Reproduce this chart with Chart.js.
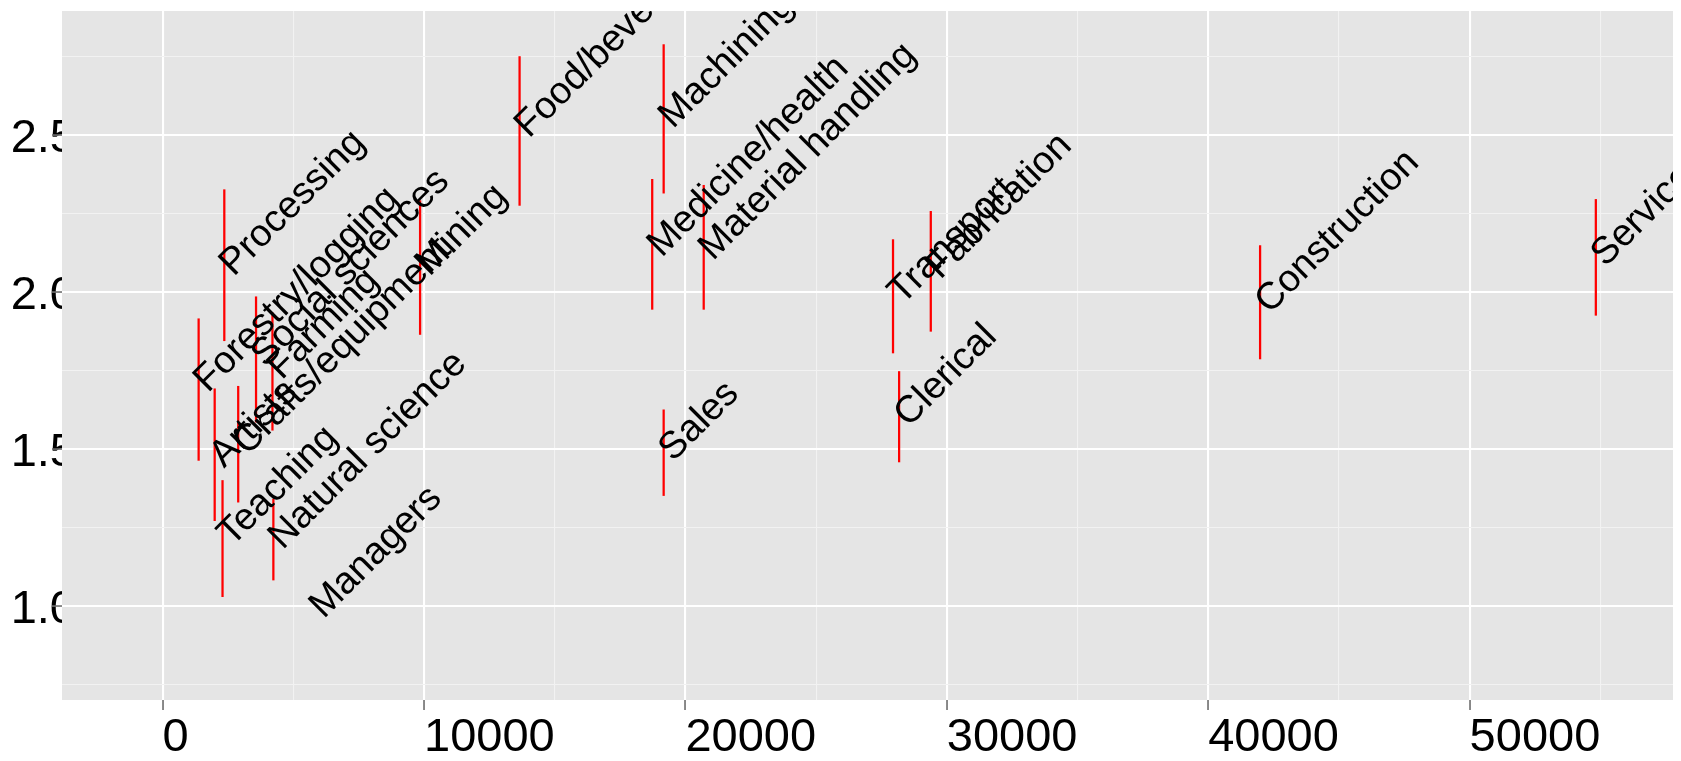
<!DOCTYPE html>
<html>
<head>
<meta charset="utf-8">
<script src="https://cdn.jsdelivr.net/npm/chart.js@4"></script>
<style>
  html, body { margin: 0; padding: 0; background: #fff; }
  canvas { display: block; }
</style>
</head>
<body>
<canvas id="grafico" width="1681" height="761"></canvas>
<script>
// occupations
const occupations = ["Forestry/logging", "Artists", "Teaching", "Processing", "Crafts/equipment",
  "Social sciences", "Farming", "Natural science", "Managers", "Mining", "Food/beverage",
  "Medicine/health", "Machining", "Sales", "Material handling", "Transport", "Clerical",
  "Fabrication", "Construction", "Services"];
const count = [1378, 1992, 2292, 2360, 2892, 3574, 4202, 4237, 5800, 9850, 13656,
  18730, 19168, 19168, 20700, 27942, 28175, 29387, 41985, 54829];
const mean = [1.70, 1.46, 1.21, 2.07, 1.50, 1.78, 1.74, 1.20, 0.98, 2.07, 2.51,
  2.13, 2.54, 1.48, 2.12, 1.98, 1.59, 2.06, 1.95, 2.10];
const lower = [1.463, 1.271, 1.029, 1.844, 1.330, 1.585, 1.559, 1.082, null, 1.864, 2.275,
  1.944, 2.314, 1.351, 1.944, 1.805, 1.458, 1.874, 1.786, 1.925];
const upper = [1.914, 1.691, 1.399, 2.325, 1.699, 1.984, 1.933, 1.340, null, 2.290, 2.749,
  2.358, 2.787, 1.624, 2.339, 2.166, 1.746, 2.256, 2.147, 2.294];

const xBreaks = [0, 10000, 20000, 30000, 40000, 50000];
const xMinorBreaks = [5000, 15000, 25000, 35000, 45000, 55000];
const yBreaks = [1.0, 1.5, 2.0, 2.5];
const yMinorBreaks = [0.75, 1.25, 1.75, 2.25, 2.75];

const panel = {
  id: "panel",
  // grey panel goes over the y labels (they get cut like in the picture), then the grid again
  beforeDatasetsDraw(chart) {
    const ctx = chart.ctx;
    const a = chart.chartArea;
    ctx.save();
    ctx.fillStyle = "#e5e5e5";
    ctx.fillRect(a.left, a.top, a.right - a.left, a.bottom - a.top);
    ctx.restore();
    chart.scales.x.drawGrid(a);
    chart.scales.y.drawGrid(a);
  },
  afterDatasetsDraw(chart) {
    const ctx = chart.ctx;
    const a = chart.chartArea;
    ctx.save();
    ctx.beginPath();
    ctx.rect(a.left, a.top, a.right - a.left, a.bottom - a.top);
    ctx.clip();
    ctx.font = '38px "Liberation Sans"';
    ctx.fillStyle = "#000";
    ctx.textAlign = "left";
    ctx.textBaseline = "middle";
    occupations.forEach((name, i) => {
      const px = chart.scales.x.getPixelForValue(count[i]);
      const py = chart.scales.y.getPixelForValue(mean[i]);
      ctx.save();
      ctx.translate(px + 2, py);
      ctx.rotate(-Math.PI / 4);
      ctx.fillText(name, 0, 0);
      ctx.restore();
    });
    ctx.restore();
  }
};

var ctx = document.getElementById("grafico");
var myChart = new Chart(ctx, {
  type: "bar",
  data: {
    datasets: [
      {
        label: "interval",
        data: occupations.map((n, i) => ({ x: count[i], y: lower[i] === null ? null : [lower[i], upper[i]] })),
        backgroundColor: "#ff0000",
        borderWidth: 0,
        barThickness: 1.6,
        grouped: false
      }
    ]
  },
  options: {
    responsive: false,
    animation: false,
    events: [],
    devicePixelRatio: 1,
    layout: { padding: { top: 11, right: 8, bottom: 0, left: 0 } },
    plugins: { legend: { display: false }, tooltip: { enabled: false } },
    scales: {
      x: {
        type: "linear",
        min: -3849,
        max: 57781,
        offset: false,
        afterBuildTicks: (s) => {
          s.ticks = xBreaks.concat(xMinorBreaks).sort((a, b) => a - b).map(v => ({ value: v }));
        },
        afterFit: (s) => { s.height = 61; s.paddingLeft = 0; s.paddingRight = 0; },
        grid: {
          offset: false,
          color: (c) => xBreaks.includes(c.tick.value) ? "#ffffff" : "#f2f2f2",
          lineWidth: (c) => xBreaks.includes(c.tick.value) ? 2.1 : 1.1,
          tickColor: (c) => xBreaks.includes(c.tick.value) ? "#7f7f7f" : "rgba(0,0,0,0)",
          tickWidth: 1.4,
          tickLength: 10
        },
        border: { display: false },
        ticks: {
          autoSkip: false,
          maxRotation: 0,
          align: "start",
          padding: 0,
          color: "#000",
          font: { family: "Liberation Sans", size: 47 },
          callback: (v) => xBreaks.includes(v) ? String(v) : ""
        }
      },
      y: {
        type: "linear",
        min: 0.7,
        max: 2.894,
        beginAtZero: false,
        afterBuildTicks: (s) => {
          s.ticks = yBreaks.concat(yMinorBreaks).sort((a, b) => a - b).map(v => ({ value: v }));
        },
        afterFit: (s) => { s.width = 62; s.paddingTop = 0; s.paddingBottom = 0; },
        grid: {
          color: (c) => yBreaks.includes(c.tick.value) ? "#ffffff" : "#f2f2f2",
          lineWidth: (c) => yBreaks.includes(c.tick.value) ? 2.1 : 1.1,
          tickColor: (c) => yBreaks.includes(c.tick.value) ? "#7f7f7f" : "rgba(0,0,0,0)",
          tickWidth: 1.4,
          tickLength: 10
        },
        border: { display: false },
        ticks: {
          autoSkip: false,
          padding: -24,
          labelOffset: 4,
          color: "#000",
          font: { family: "Liberation Sans", size: 47 },
          callback: (v) => yBreaks.includes(v) ? v.toFixed(1) : ""
        }
      }
    }
  },
  plugins: [panel]
});
</script>
</body>
</html>
